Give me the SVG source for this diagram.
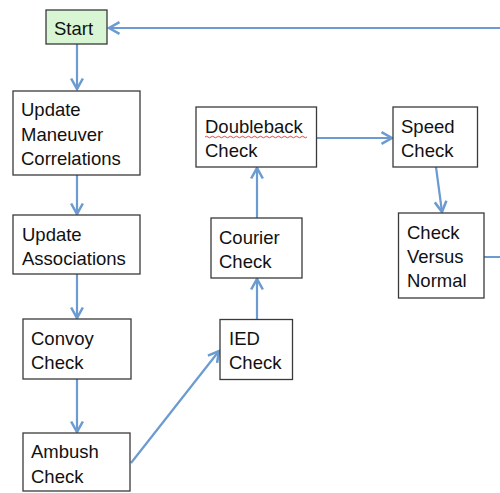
<svg xmlns="http://www.w3.org/2000/svg" width="500" height="493" viewBox="0 0 500 493">
<style>
.box{fill:#fff;stroke:#3a3a3a;stroke-width:1.3}
.start{fill:#d8f6d4}
text{font-family:"Liberation Sans",Arial,sans-serif;font-size:18.5px;fill:#111}
.c{fill:none;stroke:#6b9bd0;stroke-width:2.2}
.sq{fill:none;stroke:#e03030;stroke-width:0.9}
</style>
<defs>
<marker id="ah" markerUnits="userSpaceOnUse" markerWidth="14" markerHeight="14" refX="10" refY="6" orient="auto" viewBox="0 0 12 12">
<path d="M1,1 L10,6 L1,11" fill="none" stroke="#6b9bd0" stroke-width="2.2"/>
</marker>
</defs>
<rect width="500" height="493" fill="#fff"/>
<g id="connectors">
<path class="c" d="M77,44 V89" marker-end="url(#ah)"/>
<path class="c" d="M77,175 V214" marker-end="url(#ah)"/>
<path class="c" d="M77,274 V318" marker-end="url(#ah)"/>
<path class="c" d="M77,379 V432" marker-end="url(#ah)"/>
<path class="c" d="M131,463 L219,351" marker-end="url(#ah)"/>
<path class="c" d="M257,319 V279" marker-end="url(#ah)"/>
<path class="c" d="M257,218 V168" marker-end="url(#ah)"/>
<path class="c" d="M317,138 H392" marker-end="url(#ah)"/>
<path class="c" d="M436,167 L442,212" marker-end="url(#ah)"/>
<path class="c" d="M484,257 H503 V28 H109" marker-end="url(#ah)"/>
</g>
<g id="start">
<rect class="box start" x="46" y="10" width="61" height="34"/>
<text x="54" y="35">Start</text>
</g>
<g id="update-maneuver">
<rect class="box" x="13" y="91" width="127" height="84"/>
<text x="21" y="116">Update</text>
<text x="21" y="141">Maneuver</text>
<text x="21" y="165">Correlations</text>
</g>
<g id="update-associations">
<rect class="box" x="13" y="215" width="127" height="59"/>
<text x="22" y="241">Update</text>
<text x="22" y="265">Associations</text>
</g>
<g id="convoy">
<rect class="box" x="23" y="319" width="108" height="60"/>
<text x="31" y="345">Convoy</text>
<text x="31" y="369">Check</text>
</g>
<g id="ambush">
<rect class="box" x="23" y="433" width="107" height="58"/>
<text x="31" y="458">Ambush</text>
<text x="31" y="483">Check</text>
</g>
<g id="ied">
<rect class="box" x="220" y="319.5" width="72.5" height="60"/>
<text x="229" y="345">IED</text>
<text x="229" y="369">Check</text>
</g>
<g id="courier">
<rect class="box" x="211" y="218" width="91" height="60"/>
<text x="219" y="244">Courier</text>
<text x="219" y="268">Check</text>
</g>
<g id="doubleback">
<rect class="box" x="196" y="107" width="120.5" height="60"/>
<text x="205" y="133">Doubleback</text>
<text x="205" y="157">Check</text>
<path class="sq" d="M205,137 q1.5,-1.5 3,0 t3,0 t3,0 t3,0 t3,0 t3,0 t3,0 t3,0 t3,0 t3,0 t3,0 t3,0 t3,0 t3,0 t3,0 t3,0 t3,0 t3,0 t3,0 t3,0 t3,0 t3,0 t3,0 t3,0 t3,0 t3,0 t3,0 t3,0 t3,0 t3,0 t3,0 t3,0 t3,0 t3,0"/>
</g>
<g id="speed">
<rect class="box" x="393" y="107" width="84.5" height="60"/>
<text x="401" y="133">Speed</text>
<text x="401" y="157">Check</text>
</g>
<g id="check-versus-normal">
<rect class="box" x="398.5" y="213" width="85.5" height="85"/>
<text x="407" y="239">Check</text>
<text x="407" y="263">Versus</text>
<text x="407" y="287">Normal</text>
</g>
</svg>
